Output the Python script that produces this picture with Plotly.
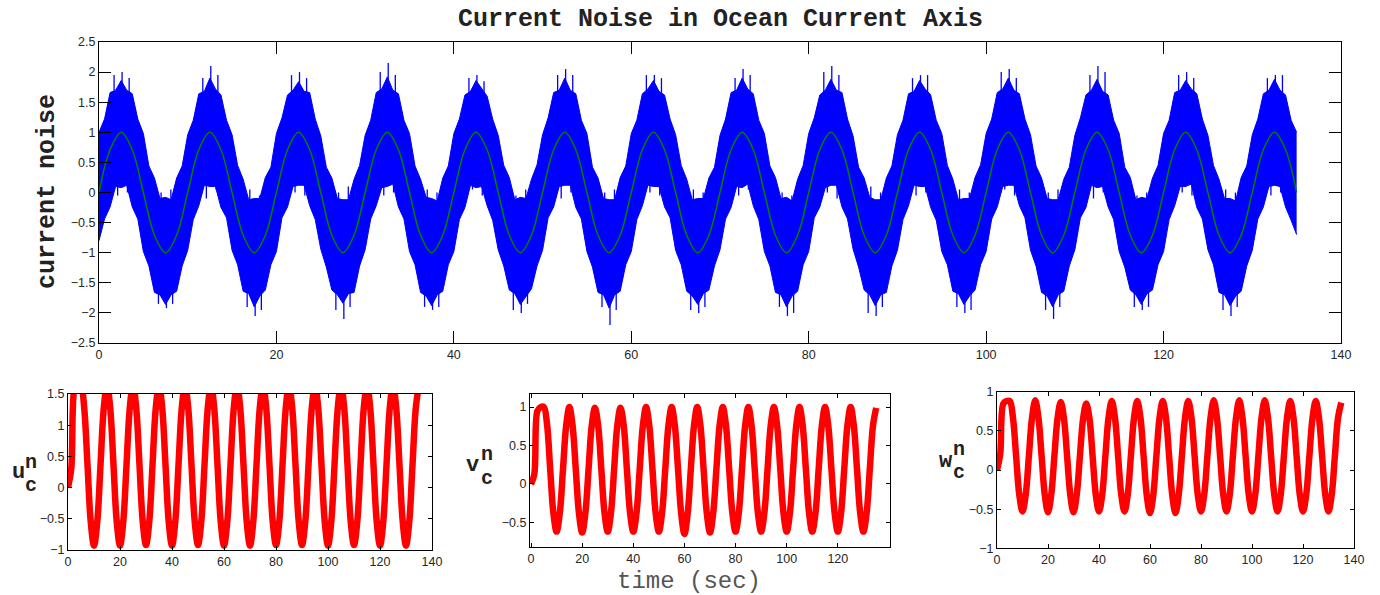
import numpy as np
import plotly.graph_objects as go

# ---------------- data ----------------
# upper / lower edge of the dense noisy current trace (blue band), every 0.625 s from 0 to 135 s
noise_upper = [
    1.0, 1.22, 1.66, 1.7, 1.86, 1.7, 1.64, 1.22, 0.98, 0.44, 0.24, -0.1, -0.08, -0.12, 0.24, 0.44,
    0.96, 1.2, 1.64, 1.68, 1.9, 1.72, 1.62, 1.2, 0.96, 0.45, 0.22, -0.12, -0.1, -0.1, 0.25, 0.42,
    0.98, 1.24, 1.62, 1.7, 1.84, 1.68, 1.66, 1.22, 0.94, 0.42, 0.24, -0.1, -0.12, -0.12, 0.22, 0.45,
    0.95, 1.2, 1.66, 1.72, 1.92, 1.7, 1.64, 1.2, 0.98, 0.44, 0.22, -0.08, -0.1, -0.14, 0.24, 0.44,
    0.98, 1.22, 1.62, 1.68, 1.86, 1.72, 1.6, 1.22, 0.95, 0.45, 0.25, -0.12, -0.08, -0.1, 0.22, 0.46,
    0.96, 1.24, 1.66, 1.7, 1.9, 1.7, 1.64, 1.2, 0.98, 0.42, 0.24, -0.1, -0.12, -0.12, 0.25, 0.44,
    0.98, 1.2, 1.64, 1.72, 1.86, 1.68, 1.62, 1.22, 0.96, 0.45, 0.22, -0.12, -0.1, -0.1, 0.24, 0.42,
    0.95, 1.22, 1.66, 1.7, 1.9, 1.72, 1.64, 1.2, 0.98, 0.44, 0.25, -0.1, -0.08, -0.14, 0.22, 0.45,
    0.98, 1.24, 1.62, 1.7, 1.88, 1.7, 1.66, 1.22, 0.94, 0.42, 0.24, -0.08, -0.12, -0.12, 0.24, 0.44,
    0.96, 1.2, 1.64, 1.68, 1.86, 1.72, 1.62, 1.2, 0.98, 0.45, 0.22, -0.12, -0.1, -0.1, 0.25, 0.46,
    0.98, 1.22, 1.66, 1.72, 1.9, 1.7, 1.64, 1.22, 0.96, 0.44, 0.24, -0.1, -0.12, -0.12, 0.22, 0.42,
    0.95, 1.24, 1.62, 1.7, 1.88, 1.68, 1.62, 1.2, 0.98, 0.42, 0.25, -0.12, -0.08, -0.1, 0.24, 0.45,
    0.98, 1.2, 1.66, 1.7, 1.86, 1.72, 1.64, 1.22, 0.95, 0.45, 0.22, -0.1, -0.1, -0.14, 0.25, 0.44,
    0.96, 1.22, 1.64, 1.7, 1.88, 1.7, 1.62, 1.2, 1.0,
]
noise_lower = [
    -0.8, -0.44, -0.24, 0.1, 0.08, 0.12, -0.24, -0.44, -0.98, -1.22, -1.66, -1.7, -1.86, -1.7, -1.64, -1.22,
    -0.96, -0.45, -0.22, 0.12, 0.1, 0.1, -0.25, -0.42, -0.96, -1.2, -1.64, -1.68, -1.9, -1.72, -1.62, -1.2,
    -0.98, -0.42, -0.24, 0.1, 0.12, 0.12, -0.22, -0.45, -0.94, -1.24, -1.62, -1.7, -1.84, -1.68, -1.66, -1.22,
    -0.95, -0.44, -0.22, 0.08, 0.1, 0.14, -0.24, -0.44, -0.98, -1.2, -1.66, -1.72, -1.88, -1.7, -1.64, -1.2,
    -0.98, -0.45, -0.25, 0.12, 0.08, 0.1, -0.22, -0.46, -0.95, -1.22, -1.62, -1.68, -1.86, -1.72, -1.6, -1.22,
    -0.96, -0.42, -0.24, 0.1, 0.12, 0.12, -0.25, -0.44, -0.98, -1.24, -1.66, -1.7, -1.92, -1.7, -1.64, -1.2,
    -0.98, -0.45, -0.22, 0.12, 0.1, 0.1, -0.24, -0.42, -0.96, -1.2, -1.64, -1.72, -1.86, -1.68, -1.62, -1.22,
    -0.95, -0.44, -0.25, 0.1, 0.08, 0.14, -0.22, -0.45, -0.98, -1.22, -1.66, -1.7, -1.9, -1.72, -1.64, -1.2,
    -0.98, -0.42, -0.24, 0.08, 0.12, 0.12, -0.24, -0.44, -0.94, -1.24, -1.62, -1.7, -1.88, -1.7, -1.66, -1.22,
    -0.96, -0.45, -0.22, 0.12, 0.1, 0.1, -0.25, -0.46, -0.98, -1.2, -1.64, -1.68, -1.86, -1.72, -1.62, -1.2,
    -0.98, -0.44, -0.24, 0.1, 0.12, 0.12, -0.22, -0.42, -0.96, -1.22, -1.66, -1.72, -1.9, -1.7, -1.64, -1.22,
    -0.95, -0.42, -0.25, 0.12, 0.08, 0.1, -0.24, -0.45, -0.98, -1.24, -1.62, -1.7, -1.86, -1.68, -1.62, -1.2,
    -0.98, -0.45, -0.22, 0.1, 0.1, 0.14, -0.25, -0.44, -0.95, -1.2, -1.66, -1.7, -1.88, -1.72, -1.64, -1.22,
    -0.96, -0.44, -0.24, 0.1, 0.12, 0.1, -0.24, -0.46, -0.7,
]
# isolated noise spikes sticking out of the band (time, tip value)
spike_up_t = [1.7, 2.6, 3.4, 11.7, 12.6, 13.4, 21.7, 22.6, 23.4, 31.7, 32.6, 33.4,
              41.7, 42.6, 43.4, 51.7, 52.6, 53.4, 61.7, 62.6, 63.4, 71.7, 72.6, 73.4,
              81.7, 82.6, 83.4, 91.7, 92.6, 93.4, 101.7, 102.6, 103.4, 111.7, 112.6, 113.4,
              121.7, 122.6, 123.4, 131.7, 132.6, 133.4]
spike_up_y = [1.95, 2.0, 1.9, 1.9, 2.1, 1.95, 1.95, 2.0, 1.9, 2.0, 2.15, 1.95,
              1.9, 1.95, 1.85, 1.95, 2.05, 1.95, 1.95, 1.95, 1.9, 1.9, 2.05, 1.95,
              2.0, 2.1, 1.95, 1.9, 1.95, 1.95, 2.0, 2.05, 1.9, 1.95, 2.1, 2.0,
              1.95, 2.0, 1.9, 1.9, 1.95, 1.95]
spike_dn_t = [6.7, 7.6, 8.3, 16.7, 17.6, 18.3, 26.7, 27.6, 28.3, 36.7, 37.6, 38.3,
              46.7, 47.6, 48.3, 56.7, 57.6, 58.3, 66.7, 67.6, 68.3, 76.7, 77.6, 78.3,
              86.7, 87.6, 88.3, 96.7, 97.6, 98.3, 106.7, 107.6, 108.3, 116.7, 117.6, 118.3,
              126.7, 127.6, 128.3]
spike_dn_y = [-1.85, -1.92, -1.85, -1.9, -2.05, -1.95, -1.95, -2.1, -1.9, -1.9, -1.95, -1.9,
              -1.95, -2.0, -1.85, -1.9, -2.2, -1.95, -1.95, -2.0, -1.9, -1.9, -2.05, -2.0,
              -2.0, -2.05, -1.9, -1.9, -2.0, -1.95, -1.95, -2.1, -1.9, -1.9, -1.95, -1.9,
              -1.95, -2.05, -1.9]
# small spikes dipping into the white gaps under the crests / above the troughs
hole_dn_t = [2.1, 3.2, 12.1, 13.2, 22.1, 23.2, 32.1, 33.2, 42.1, 43.2, 52.1, 53.2, 62.1, 63.2,
             72.1, 73.2, 82.1, 83.2, 92.1, 93.2, 102.1, 103.2, 112.1, 113.2, 122.1, 123.2,
             132.1, 133.2]
hole_dn_y = [-0.05, 0.0, -0.1, 0.05, 0.0, -0.05, -0.05, 0.0, 0.05, -0.05, -0.1, 0.0, 0.0, -0.05,
             -0.05, 0.05, 0.0, -0.1, -0.05, 0.0, 0.05, -0.05, -0.1, 0.0, 0.0, -0.05, -0.05, 0.0]
hole_up_t = [7.0, 8.1, 17.0, 18.1, 27.0, 28.1, 37.0, 38.1, 47.0, 48.1, 57.0, 58.1, 67.0, 68.1,
             77.0, 78.1, 87.0, 88.1, 97.0, 98.1, 107.0, 108.1, 117.0, 118.1, 127.0, 128.1]
hole_up_y = [0.0, 0.05, 0.05, -0.05, 0.0, 0.1, 0.05, 0.0, -0.05, 0.05, 0.0, 0.05, 0.05, 0.0,
             0.0, -0.05, 0.1, 0.0, 0.05, 0.0, 0.0, 0.05, -0.05, 0.0, 0.05, 0.0]
spike_up_base, spike_dn_base = 1.55, -1.55
hole_dn_base, hole_up_base = 0.2, -0.2

# clean reference current (green), every 1.25 s
current_ref = [
    0, 0.71, 1, 0.71, 0, -0.71, -1, -0.71,
    0, 0.71, 1, 0.71, 0, -0.71, -1, -0.71,
    0, 0.71, 1, 0.71, 0, -0.71, -1, -0.71,
    0, 0.71, 1, 0.71, 0, -0.71, -1, -0.71,
    0, 0.71, 1, 0.71, 0, -0.71, -1, -0.71,
    0, 0.71, 1, 0.71, 0, -0.71, -1, -0.71,
    0, 0.71, 1, 0.71, 0, -0.71, -1, -0.71,
    0, 0.71, 1, 0.71, 0, -0.71, -1, -0.71,
    0, 0.71, 1, 0.71, 0, -0.71, -1, -0.71,
    0, 0.71, 1, 0.71, 0, -0.71, -1, -0.71,
    0, 0.71, 1, 0.71, 0, -0.71, -1, -0.71,
    0, 0.71, 1, 0.71, 0, -0.71, -1, -0.71,
    0, 0.71, 1, 0.71, 0, -0.71, -1, -0.71,
    0, 0.71, 1, 0.71, 0,
]
u_cn = [
    0, 0.3, 1.6, 1.7, 1.65, 1.27, 0.36, -0.55,
    -0.93, -0.55, 0.36, 1.27, 1.65, 1.27, 0.36, -0.55,
    -0.93, -0.55, 0.36, 1.27, 1.65, 1.27, 0.36, -0.55,
    -0.92, -0.55, 0.36, 1.27, 1.65, 1.27, 0.36, -0.55,
    -0.93, -0.55, 0.36, 1.27, 1.65, 1.27, 0.36, -0.55,
    -0.92, -0.55, 0.36, 1.27, 1.65, 1.27, 0.36, -0.55,
    -0.93, -0.55, 0.36, 1.27, 1.65, 1.27, 0.36, -0.55,
    -0.93, -0.55, 0.36, 1.27, 1.65, 1.27, 0.36, -0.55,
    -0.92, -0.55, 0.36, 1.27, 1.65, 1.27, 0.36, -0.55,
    -0.92, -0.55, 0.36, 1.27, 1.65, 1.27, 0.36, -0.55,
    -0.93, -0.55, 0.36, 1.27, 1.65, 1.27, 0.36, -0.55,
    -0.92, -0.55, 0.36, 1.27, 1.65, 1.27, 0.36, -0.55,
    -0.93, -0.55, 0.36, 1.27, 1.65, 1.27, 0.36, -0.55,
    -0.93, -0.55, 0.36, 1.27, 1.65,
]
v_cn = [
    0, 0.12, 0.95, 1.0, 1.0, 0.78, 0.19, -0.38,
    -0.62, -0.38, 0.19, 0.76, 1.0, 0.76, 0.19, -0.38,
    -0.63, -0.38, 0.19, 0.76, 0.99, 0.76, 0.19, -0.38,
    -0.62, -0.38, 0.19, 0.76, 0.99, 0.76, 0.19, -0.38,
    -0.62, -0.38, 0.19, 0.76, 1.0, 0.76, 0.19, -0.38,
    -0.62, -0.38, 0.19, 0.76, 1.0, 0.76, 0.19, -0.39,
    -0.65, -0.39, 0.19, 0.76, 1.0, 0.76, 0.19, -0.38,
    -0.63, -0.38, 0.19, 0.76, 1.0, 0.76, 0.19, -0.38,
    -0.62, -0.38, 0.19, 0.76, 1.0, 0.76, 0.19, -0.38,
    -0.62, -0.38, 0.19, 0.76, 1.0, 0.76, 0.19, -0.38,
    -0.62, -0.38, 0.19, 0.76, 1.0, 0.76, 0.19, -0.38,
    -0.62, -0.38, 0.19, 0.76, 1.0, 0.76, 0.19, -0.38,
    -0.62, -0.38, 0.19, 0.76, 1.0, 0.76, 0.19, -0.38,
    -0.62, -0.38, 0.19, 0.76, 0.99,
]
w_cn = [
    0, 0.2, 0.85, 0.88, 0.88, 0.67, 0.175, -0.32,
    -0.53, -0.32, 0.175, 0.67, 0.89, 0.67, 0.175, -0.32,
    -0.54, -0.32, 0.175, 0.66, 0.87, 0.66, 0.175, -0.32,
    -0.54, -0.32, 0.17, 0.65, 0.85, 0.66, 0.175, -0.32,
    -0.53, -0.32, 0.175, 0.67, 0.88, 0.67, 0.175, -0.32,
    -0.53, -0.32, 0.175, 0.67, 0.88, 0.67, 0.175, -0.33,
    -0.55, -0.33, 0.175, 0.67, 0.88, 0.67, 0.175, -0.33,
    -0.55, -0.32, 0.175, 0.67, 0.88, 0.67, 0.175, -0.32,
    -0.53, -0.32, 0.175, 0.67, 0.89, 0.67, 0.175, -0.32,
    -0.53, -0.32, 0.175, 0.67, 0.89, 0.67, 0.175, -0.32,
    -0.53, -0.32, 0.175, 0.67, 0.89, 0.67, 0.175, -0.32,
    -0.53, -0.32, 0.175, 0.67, 0.88, 0.67, 0.175, -0.32,
    -0.53, -0.32, 0.175, 0.67, 0.88, 0.67, 0.175, -0.32,
    -0.53, -0.32, 0.175, 0.67, 0.86,
]

top_xticks = [0, 20, 40, 60, 80, 100, 120, 140]
top_yticks = [-2.5, -2, -1.5, -1, -0.5, 0, 0.5, 1, 1.5, 2, 2.5]
u_yticks = [-1, -0.5, 0, 0.5, 1, 1.5]
v_yticks = [-0.5, 0, 0.5, 1]
w_yticks = [-1, -0.5, 0, 0.5, 1]
v_xticks = [0, 20, 40, 60, 80, 100, 120]

# sample times (s)
t_env = np.linspace(0, 135, len(noise_upper))
t_sig = np.linspace(0, 135, len(current_ref))

# ---------------- figure ----------------
W, H = 1380, 595
BLUE, GREEN, RED = "#0000FF", "#008000", "#FF0000"

fig = go.Figure()
fig.add_trace(go.Scatter(x=t_env, y=noise_lower, mode="lines",
                         line=dict(color=BLUE, width=1), xaxis="x", yaxis="y",
                         showlegend=False, hoverinfo="skip"))
fig.add_trace(go.Scatter(x=t_env, y=noise_upper, mode="lines", fill="tonexty",
                         fillcolor=BLUE, line=dict(color=BLUE, width=1),
                         xaxis="x", yaxis="y", showlegend=False, hoverinfo="skip"))

# thin noise spikes sticking out of the band
sx, sy = [], []
for ts, ys, b in [(spike_up_t, spike_up_y, spike_up_base), (spike_dn_t, spike_dn_y, spike_dn_base),
                  (hole_dn_t, hole_dn_y, hole_dn_base), (hole_up_t, hole_up_y, hole_up_base)]:
    for t, y in zip(ts, ys):
        sx += [t, t, None]
        sy += [b, y, None]
fig.add_trace(go.Scatter(x=sx, y=sy, mode="lines", line=dict(color=BLUE, width=1.3),
                         xaxis="x", yaxis="y", showlegend=False, hoverinfo="skip",
                         connectgaps=False))
fig.add_trace(go.Scatter(x=t_sig, y=current_ref, mode="lines",
                         line=dict(color=GREEN, width=1.5, shape="spline"),
                         xaxis="x", yaxis="y", showlegend=False))
for ser, xa, ya in [(u_cn, "x2", "y2"), (v_cn, "x3", "y3"), (w_cn, "x4", "y4")]:
    fig.add_trace(go.Scatter(x=t_sig, y=ser, mode="lines",
                             line=dict(color=RED, width=6.5, shape="spline"),
                             xaxis=xa, yaxis=ya, showlegend=False))

tickfont = dict(family="Liberation Sans, Arial, sans-serif", size=12.5, color="#262626")
common = dict(showline=True, linecolor="black", linewidth=1, mirror="ticks",
              ticks="inside", tickcolor="black", tickwidth=1, showgrid=False,
              zeroline=False, tickfont=tickfont, fixedrange=True, automargin=False)


def px_x(a, b):
    return [a / W, b / W]


def px_y(top, bottom):
    return [1 - bottom / H, 1 - top / H]


fig.update_layout(
    width=W, height=H, margin=dict(l=0, r=0, t=0, b=0, autoexpand=False),
    paper_bgcolor="white", plot_bgcolor="white", showlegend=False,
    xaxis=dict(common, domain=px_x(99, 1341), range=[0, 140], tickvals=top_xticks,
               anchor="y", ticklen=12),
    yaxis=dict(common, domain=px_y(42, 343), range=[-2.5, 2.5], tickvals=top_yticks,
               anchor="x", ticklen=12),
    xaxis2=dict(common, domain=px_x(68, 432), range=[0, 140], tickvals=top_xticks,
                anchor="y2", ticklen=4),
    yaxis2=dict(common, domain=px_y(394, 550), range=[-1, 1.5], tickvals=u_yticks,
                anchor="x2", ticklen=4),
    xaxis3=dict(common, domain=px_x(530, 890), range=[-0.4, 140.4], tickvals=v_xticks,
                anchor="y3", ticklen=4),
    yaxis3=dict(common, domain=px_y(394, 547), range=[-0.82, 1.17], tickvals=v_yticks,
                anchor="x3", ticklen=4),
    xaxis4=dict(common, domain=px_x(997, 1354), range=[0, 140], tickvals=top_xticks,
                anchor="y4", ticklen=4),
    yaxis4=dict(common, domain=px_y(391.7, 548.3), range=[-1, 1], tickvals=w_yticks,
                anchor="x4", ticklen=4),
)

MONO = "Liberation Mono, Courier New, monospace"


def ann(text, x, y, size, bold=True, color="#222222", angle=0):
    fig.add_annotation(text=f"<b>{text}</b>" if bold else text,
                       x=x / W, y=1 - y / H, xref="paper", yref="paper",
                       xanchor="center", yanchor="middle", showarrow=False,
                       textangle=angle, font=dict(family=MONO, size=size, color=color))


ann("Current Noise in Ocean Current Axis", 720, 20, 25)
ann("current noise", 48, 192, 25, angle=-90)
ann("time (sec)", 689, 581, 24, bold=False, color="#555555")
# component labels  (u_c^n, v_c^n, w_c^n)
for base, bx, by, sx_, sy_up, sy_dn in [("u", 18.5, 472, 31, 462, 485),
                                         ("v", 472.5, 465, 487, 454, 478),
                                         ("w", 945.5, 461, 958.5, 449, 473)]:
    ann(base, bx, by, 22)
    ann("n", sx_, sy_up, 20)
    ann("c", sx_, sy_dn, 20)

# the page body has a default 8px margin; remove it so the figure sits at the window corner
fig.write_html("out.html", config={"displayModeBar": False},
               post_script="document.body.style.margin='0px';document.body.style.padding='0px';")
